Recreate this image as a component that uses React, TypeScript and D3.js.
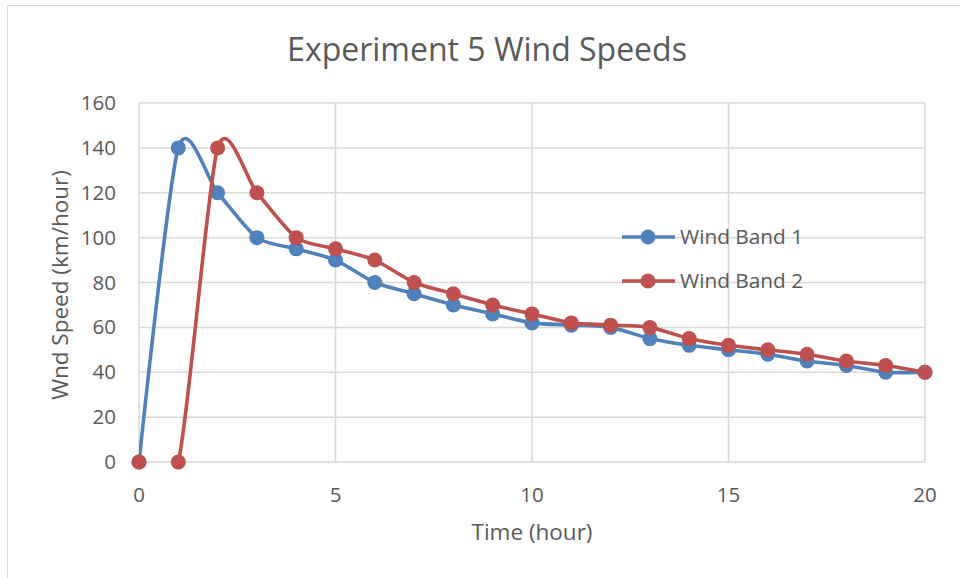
import React from "react";
import * as d3 from "d3";

const hours = [0, 1, 2, 3, 4, 5, 6, 7, 8, 9, 10, 11, 12, 13, 14, 15, 16, 17, 18, 19, 20];
const windBand1 = [0, 140, 120, 100, 95, 90, 80, 75, 70, 66, 62, 61, 60, 55, 52, 50, 48, 45, 43, 40, 40];
const windBand2 = [0, 0, 140, 120, 100, 95, 90, 80, 75, 70, 66, 62, 61, 60, 55, 52, 50, 48, 45, 43, 40];
const xTicks = [0, 5, 10, 15, 20];
const yTicks = [0, 20, 40, 60, 80, 100, 120, 140, 160];
const seriesNames = ["Wind Band 1", "Wind Band 2"];
const seriesColors = ["#4f81bd", "#c0504d"];

const W = 960;
const H = 578;
const FONT = "'Open Sans', 'Liberation Sans', sans-serif";
const TEXT = "#595959";
const GRID = "#d9d9d9";

export default function App() {
  const x = d3.scaleLinear().domain([0, 20]).range([139, 925]);
  const y = d3.scaleLinear().domain([0, 160]).range([462, 103]);
  const line = d3
    .line<number>()
    .x((_, i) => x(hours[i]))
    .y((d) => y(d))
    .curve(d3.curveCardinal.tension(0.25));
  const series = [windBand1, windBand2];

  return (
    <svg
      width={W}
      height={H}
      style={{ position: "absolute", left: 0, top: 0, background: "#fff" }}
    >
      <defs>
        <clipPath id="plot-clip">
          <rect x={x(0)} y={y(160)} width={x(20) - x(0)} height={y(0) - y(160)} />
        </clipPath>
      </defs>
      <rect x={7.5} y={5.5} width={W} height={H} fill="#fff" stroke={GRID} />
      <text
        x={487}
        y={61}
        textAnchor="middle"
        fontFamily={FONT}
        fontSize={32}
        fill={TEXT}
      >
        Experiment 5 Wind Speeds
      </text>

      {yTicks.map((t) => (
        <g key={"y" + t}>
          <line x1={x(0)} x2={x(20)} y1={y(t)} y2={y(t)} stroke={GRID} strokeWidth={1.5} />
          <text
            x={116}
            y={y(t) + 7}
            textAnchor="end"
            fontFamily={FONT}
            fontSize={20.5}
            fill={TEXT}
          >
            {t}
          </text>
        </g>
      ))}
      {xTicks.map((t) => (
        <g key={"x" + t}>
          <line x1={x(t)} x2={x(t)} y1={y(0)} y2={y(160)} stroke={GRID} strokeWidth={1.5} />
          <text
            x={x(t)}
            y={502}
            textAnchor="middle"
            fontFamily={FONT}
            fontSize={20.5}
            fill={TEXT}
          >
            {t}
          </text>
        </g>
      ))}

      <text
        x={532}
        y={540}
        textAnchor="middle"
        fontFamily={FONT}
        fontSize={22.5}
        fill={TEXT}
      >
        Time (hour)
      </text>
      <text
        transform={`translate(68,285) rotate(-90)`}
        textAnchor="middle"
        fontFamily={FONT}
        fontSize={22.5}
        fill={TEXT}
      >
        Wnd Speed (km/hour)
      </text>

      {series.map((s, si) => (
        <g key={"s" + si}>
          <path
            d={line(s) || ""}
            fill="none"
            stroke={seriesColors[si]}
            strokeWidth={3.6}
            clipPath="url(#plot-clip)"
          />
          {s.map((v, i) => (
            <circle key={i} cx={x(hours[i])} cy={y(v)} r={7.5} fill={seriesColors[si]} />
          ))}
        </g>
      ))}

      {seriesNames.map((name, i) => (
        <g key={"l" + i} transform={`translate(0,${237 + i * 44})`}>
          <line x1={622} x2={675} y1={0} y2={0} stroke={seriesColors[i]} strokeWidth={3.6} />
          <circle cx={648} cy={0} r={7.5} fill={seriesColors[i]} />
          <text x={680} y={7} fontFamily={FONT} fontSize={20.8} fill={TEXT}>
            {name}
          </text>
        </g>
      ))}
    </svg>
  );
}
